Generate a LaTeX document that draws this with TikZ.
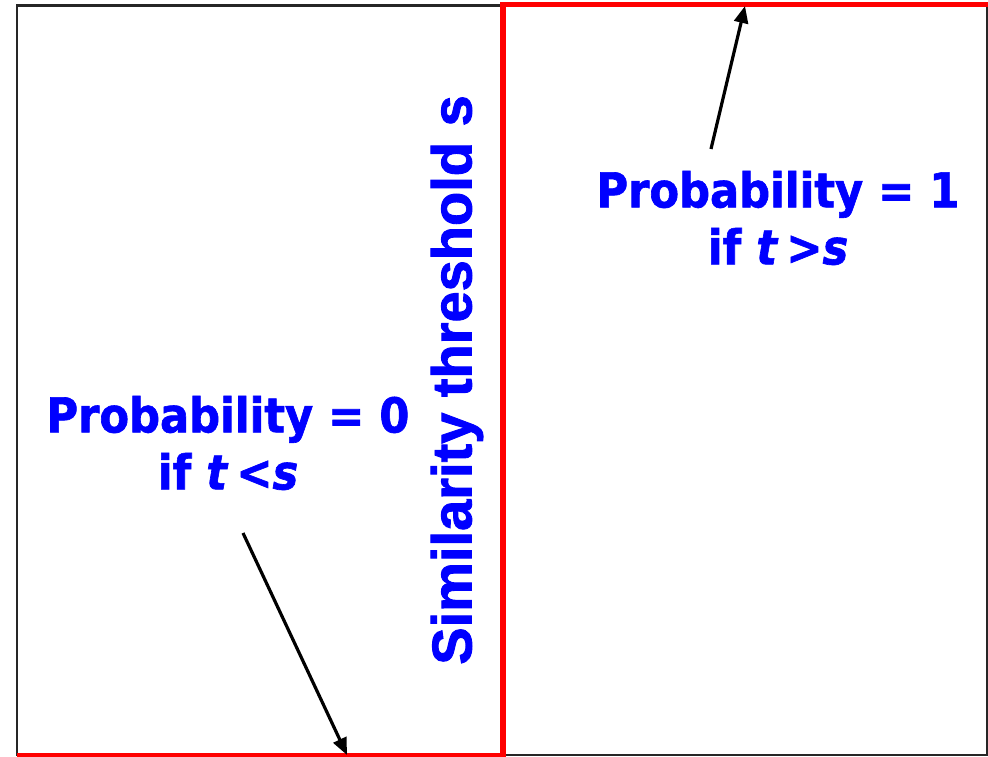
\documentclass[tikz,border=0pt]{standalone}
\usepackage{fontspec}
\setmainfont{DejaVu Sans Condensed}[BoldFont={DejaVu Sans Condensed Bold}, BoldItalicFont={DejaVu Sans Condensed Bold Oblique}, BoldFeatures={FakeBold=1.3}, BoldItalicFeatures={FakeBold=1.3}]
\newfontfamily\arialfont{Liberation Sans Bold}[FakeBold=1.6]
\usetikzlibrary{arrows.meta}
\definecolor{txtblue}{RGB}{0,0,255}
\tikzset{
  frame/.style={draw=black!85, line width=2.2pt},
  redline/.style={draw=red, line width=5.4pt, line join=miter},
  pointer/.style={draw=black, line width=3.2pt, -{Triangle[length=17pt,width=14pt]}},
  label/.style={text=txtblue, font=\bfseries\fontsize{48}{57}\selectfont, align=center, inner sep=0pt},
  vlabel/.style={text=txtblue, font=\arialfont\fontsize{56}{60}\selectfont, rotate=90, inner sep=0pt}
}
\begin{document}
\begin{tikzpicture}[x=1pt,y=-1pt]
\useasboundingbox (0,0) rectangle (988,756);
\draw[frame] (17,5.5) rectangle (987.5,755);
\draw[redline] (17,756) -- (503,756) -- (503,4.6) -- (990,4.6);
\node[label] (p0) at (228,443) {Probability = 0\\if \textit{t}\,<\textit{s}};
\node[label] (p1) at (778,218) {Probability = 1\\if \textit{t}\,>\textit{s}};
\node[vlabel] (thr) at (457,380) {Similarity threshold s};
\coordinate (a0s) at (243,533);
\coordinate (a0e) at (347,755);
\coordinate (a1s) at (711,149);
\coordinate (a1e) at (745,6);
\draw[pointer] (a0s) -- (a0e);
\draw[pointer] (a1s) -- (a1e);
\end{tikzpicture}
\end{document}
